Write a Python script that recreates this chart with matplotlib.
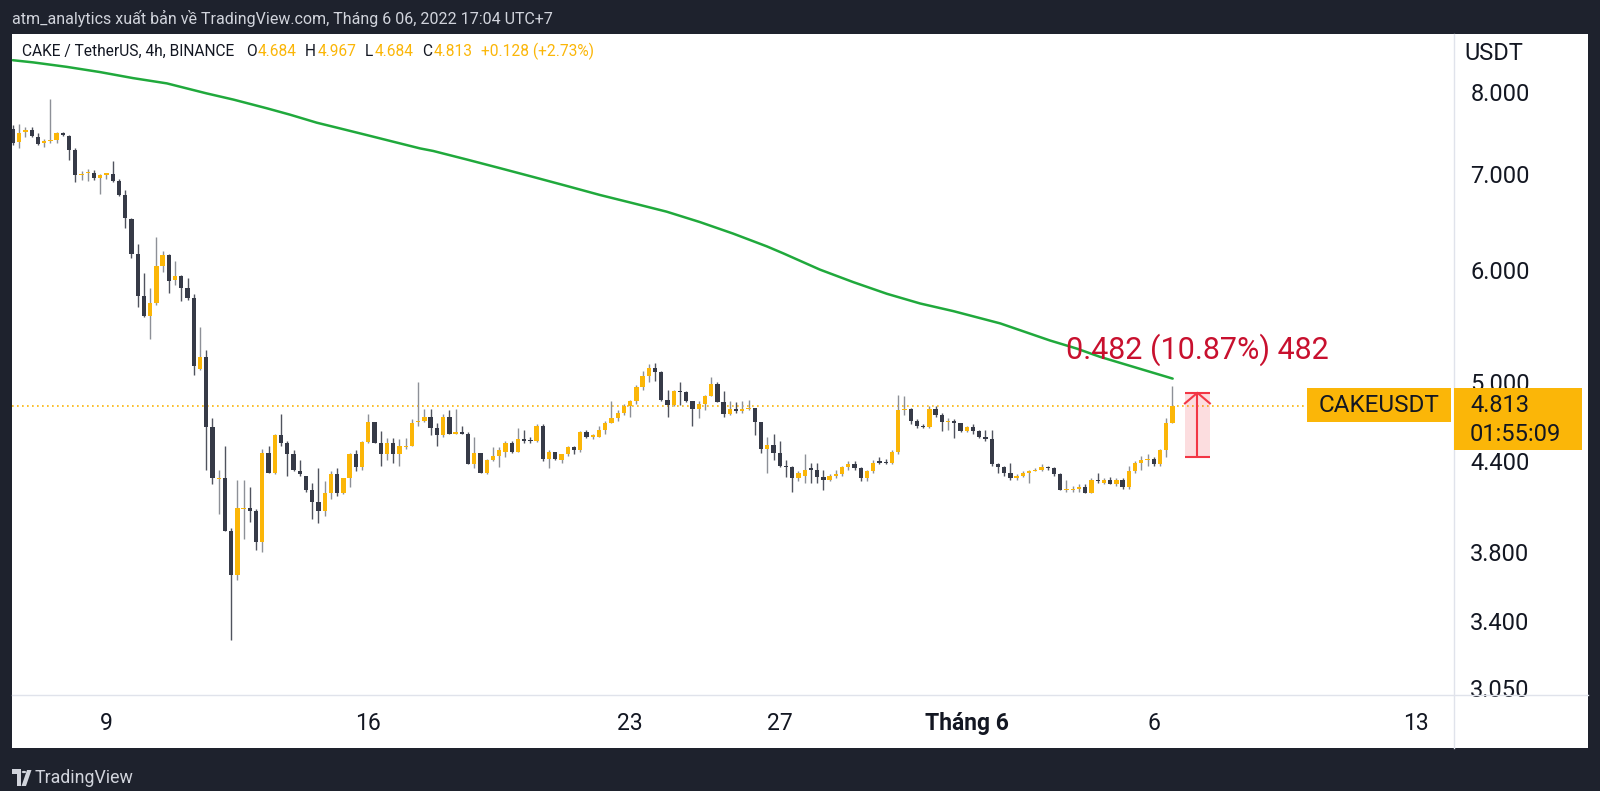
import matplotlib.pyplot as plt
from matplotlib.patches import Rectangle, Circle, Polygon
from matplotlib.lines import Line2D
from matplotlib.ticker import NullLocator, NullFormatter
import numpy as np

plt.rcParams['font.family'] = ['Roboto', 'DejaVu Sans']

# 4h candles, first one May 6 15:00 (UTC+7); x axis is "day of May" (June 1 = 32)
first_bar = 6 + 15 / 24

opens = [7.53, 7.38, 7.50, 7.52, 7.44, 7.36, 7.39, 7.40, 7.48, 7.45,
         7.28, 6.99, 7.01, 7.02, 6.96, 6.99, 7.00, 6.93, 6.77, 6.51,
         6.15, 5.75, 5.57, 5.68, 6.04, 6.14, 5.90, 5.94, 5.82, 5.73,
         5.11, 5.21, 4.65, 4.275, 4.28, 3.93, 3.66, 4.07, 4.08, 4.06,
         3.86, 4.46, 4.32, 4.59, 4.53, 4.45, 4.33, 4.30, 4.20, 4.12,
         4.06, 4.18, 4.31, 4.18, 4.28, 4.45, 4.36, 4.54, 4.69, 4.53,
         4.45, 4.53, 4.45, 4.50, 4.51, 4.69, 4.70, 4.73, 4.64, 4.59,
         4.73, 4.60, 4.61, 4.60, 4.38, 4.46, 4.32, 4.41, 4.44, 4.47,
         4.53, 4.47, 4.56, 4.55, 4.55, 4.66, 4.42, 4.47, 4.41, 4.45,
         4.50, 4.48, 4.61, 4.58, 4.58, 4.63, 4.68, 4.72, 4.76, 4.81,
         4.85, 4.96, 5.05, 5.12, 5.08, 4.86, 4.82, 4.93, 4.92, 4.85,
         4.79, 4.83, 4.89, 4.99, 4.84, 4.75, 4.79, 4.77, 4.79, 4.80,
         4.69, 4.49, 4.52, 4.46, 4.37, 4.36, 4.28, 4.30, 4.35, 4.34,
         4.29, 4.27, 4.30, 4.31, 4.36, 4.38, 4.35, 4.28, 4.33, 4.40,
         4.39, 4.39, 4.47, 4.78, 4.79, 4.70, 4.66, 4.65, 4.79, 4.74,
         4.69, 4.70, 4.68, 4.62, 4.65, 4.62, 4.58, 4.56, 4.38, 4.36,
         4.32, 4.28, 4.30, 4.32, 4.33, 4.34, 4.36, 4.35, 4.31, 4.20,
         4.20, 4.21, 4.22, 4.18, 4.27, 4.25, 4.27, 4.24, 4.27, 4.22,
         4.33, 4.39, 4.41, 4.42, 4.38, 4.48, 4.684]
highs = [7.58, 7.59, 7.56, 7.56, 7.49, 7.41, 7.91, 7.50, 7.50, 7.46,
         7.30, 7.04, 7.06, 7.05, 7.00, 7.02, 7.15, 6.95, 6.82, 6.52,
         6.25, 5.97, 5.82, 6.33, 6.18, 6.15, 6.08, 5.95, 5.92, 5.77,
         5.47, 5.27, 4.72, 4.34, 4.51, 3.95, 4.27, 4.27, 4.22, 4.07,
         4.49, 4.51, 4.60, 4.75, 4.55, 4.48, 4.41, 4.30, 4.25, 4.35,
         4.26, 4.33, 4.35, 4.28, 4.46, 4.48, 4.55, 4.75, 4.69, 4.62,
         4.57, 4.57, 4.56, 4.57, 4.71, 5.00, 4.79, 4.79, 4.68, 4.75,
         4.78, 4.79, 4.66, 4.61, 4.58, 4.46, 4.42, 4.50, 4.50, 4.55,
         4.55, 4.64, 4.63, 4.58, 4.67, 4.67, 4.48, 4.47, 4.45, 4.51,
         4.51, 4.62, 4.63, 4.60, 4.66, 4.70, 4.85, 4.78, 4.83, 4.86,
         4.98, 5.09, 5.15, 5.16, 5.09, 4.94, 4.94, 5.00, 4.93, 4.85,
         4.85, 4.90, 5.04, 5.00, 4.93, 4.85, 4.84, 4.85, 4.86, 4.80,
         4.69, 4.58, 4.60, 4.55, 4.41, 4.37, 4.33, 4.45, 4.39, 4.39,
         4.34, 4.31, 4.34, 4.37, 4.40, 4.40, 4.36, 4.34, 4.41, 4.43,
         4.42, 4.48, 4.90, 4.89, 4.80, 4.71, 4.67, 4.81, 4.81, 4.76,
         4.72, 4.71, 4.68, 4.66, 4.67, 4.63, 4.63, 4.63, 4.39, 4.37,
         4.39, 4.31, 4.33, 4.34, 4.35, 4.38, 4.37, 4.36, 4.32, 4.27,
         4.23, 4.24, 4.24, 4.28, 4.32, 4.28, 4.29, 4.28, 4.28, 4.37,
         4.40, 4.44, 4.45, 4.43, 4.49, 4.72, 4.967]
lows = [7.34, 7.31, 7.44, 7.44, 7.34, 7.32, 7.37, 7.36, 7.45, 7.16,
        6.91, 6.94, 6.92, 6.94, 6.78, 6.95, 6.91, 6.76, 6.42, 6.11,
        5.65, 5.56, 5.36, 5.67, 5.98, 5.78, 5.85, 5.70, 5.71, 5.06,
        5.10, 4.34, 4.24, 4.04, 3.93, 3.295, 3.63, 3.88, 3.99, 3.81,
        3.80, 4.32, 4.31, 4.51, 4.30, 4.33, 4.30, 4.19, 4.01, 3.98,
        4.03, 4.14, 4.16, 4.17, 4.22, 4.33, 4.34, 4.53, 4.53, 4.37,
        4.41, 4.39, 4.37, 4.49, 4.51, 4.66, 4.69, 4.59, 4.51, 4.58,
        4.60, 4.60, 4.60, 4.38, 4.35, 4.32, 4.31, 4.40, 4.36, 4.43,
        4.46, 4.47, 4.53, 4.53, 4.54, 4.40, 4.35, 4.41, 4.39, 4.44,
        4.45, 4.47, 4.57, 4.56, 4.58, 4.60, 4.68, 4.70, 4.74, 4.73,
        4.83, 4.94, 5.00, 5.01, 4.85, 4.73, 4.81, 4.82, 4.84, 4.66,
        4.72, 4.78, 4.89, 4.84, 4.73, 4.74, 4.76, 4.76, 4.78, 4.59,
        4.46, 4.32, 4.41, 4.36, 4.29, 4.19, 4.26, 4.25, 4.25, 4.25,
        4.20, 4.26, 4.28, 4.30, 4.34, 4.34, 4.26, 4.26, 4.32, 4.38,
        4.38, 4.38, 4.45, 4.74, 4.67, 4.64, 4.64, 4.64, 4.73, 4.62,
        4.63, 4.57, 4.61, 4.61, 4.60, 4.57, 4.55, 4.37, 4.32, 4.30,
        4.27, 4.27, 4.29, 4.25, 4.33, 4.33, 4.34, 4.30, 4.20, 4.19,
        4.19, 4.19, 4.18, 4.18, 4.25, 4.24, 4.24, 4.23, 4.21, 4.21,
        4.32, 4.34, 4.37, 4.37, 4.37, 4.43, 4.684]
closes = [7.37, 7.49, 7.52, 7.45, 7.35, 7.39, 7.40, 7.48, 7.46, 7.28,
          6.99, 7.00, 7.02, 6.96, 6.99, 7.01, 6.93, 6.77, 6.52, 6.15,
          5.75, 5.57, 5.68, 6.04, 6.14, 5.89, 5.94, 5.82, 5.73, 5.13,
          5.21, 4.65, 4.28, 4.28, 3.93, 3.66, 4.08, 4.08, 4.06, 3.86,
          4.46, 4.32, 4.59, 4.53, 4.45, 4.34, 4.31, 4.20, 4.12, 4.06,
          4.18, 4.31, 4.18, 4.28, 4.45, 4.36, 4.54, 4.69, 4.53, 4.45,
          4.53, 4.45, 4.51, 4.51, 4.68, 4.70, 4.73, 4.64, 4.59, 4.73,
          4.60, 4.61, 4.60, 4.38, 4.46, 4.32, 4.41, 4.44, 4.48, 4.53,
          4.47, 4.56, 4.55, 4.545, 4.66, 4.42, 4.47, 4.42, 4.45, 4.50,
          4.48, 4.61, 4.58, 4.59, 4.63, 4.68, 4.72, 4.76, 4.81, 4.85,
          4.96, 5.05, 5.12, 5.08, 4.86, 4.82, 4.93, 4.92, 4.85, 4.79,
          4.83, 4.89, 4.99, 4.84, 4.75, 4.79, 4.77, 4.79, 4.80, 4.69,
          4.49, 4.52, 4.46, 4.37, 4.36, 4.28, 4.32, 4.34, 4.34, 4.29,
          4.27, 4.30, 4.31, 4.36, 4.38, 4.35, 4.28, 4.33, 4.39, 4.39,
          4.385, 4.47, 4.78, 4.79, 4.70, 4.66, 4.65, 4.79, 4.74, 4.69,
          4.70, 4.68, 4.62, 4.65, 4.62, 4.58, 4.56, 4.38, 4.36, 4.32,
          4.28, 4.30, 4.32, 4.33, 4.34, 4.36, 4.35, 4.31, 4.20, 4.205,
          4.21, 4.22, 4.18, 4.27, 4.26, 4.27, 4.24, 4.27, 4.22, 4.33,
          4.39, 4.41, 4.42, 4.38, 4.48, 4.684, 4.813]

# green moving average
ma_days = [6.62, 7.17, 8.06, 8.95, 9.83, 10.74, 11.80, 12.52, 13.41, 14.03,
           14.75, 15.37, 16.08, 16.79, 17.51, 17.86, 18.76, 19.65, 20.54, 21.43,
           22.32, 23.21, 24.10, 24.99, 25.88, 26.78, 27.22, 28.20, 29.09, 29.99,
           30.88, 31.77, 33.02, 34.35, 35.07, 35.69, 37.63]
ma_vals = [8.42, 8.39, 8.33, 8.26, 8.18, 8.11, 7.98, 7.90, 7.79, 7.71,
           7.61, 7.54, 7.46, 7.38, 7.30, 7.27, 7.17, 7.07, 6.97, 6.87,
           6.77, 6.68, 6.59, 6.48, 6.36, 6.23, 6.16, 6.00, 5.88, 5.77,
           5.68, 5.61, 5.50, 5.35, 5.28, 5.21, 5.03]

price_ticks = [3.05, 3.4, 3.8, 4.4, 5.0, 6.0, 7.0, 8.0]
day_ticks = [9, 16, 23, 27, 32, 37, 44]
day_labels = ['9', '16', '23', '27', 'Tháng 6', '6', '13']

last_price = 4.813
meas_low, meas_high = 4.434, 4.916
meas_text = '0.482 (10.87%) 482'

UP = '#fbb608'
DOWN = '#363a47'
BG = '#1e222d'
TXT = '#131722'
W, H = 1600, 791


def fx(x):
    return x / W


def fy(y):
    return 1 - y / H


fig = plt.figure(figsize=(16, 7.91), dpi=100, facecolor=BG)
fig.add_artist(Rectangle((fx(12), fy(748)), fx(1588 - 12), (748 - 34) / H,
                         transform=fig.transFigure, facecolor='white', edgecolor='none', zorder=0))
ax = fig.add_axes([fx(12.2), fy(695), fx(1454.3 - 12.2), (695 - 33.7) / H])
ax.set_facecolor('none')
for s in ax.spines.values():
    s.set_visible(False)

o = np.array(opens)
c = np.array(closes)
hi = np.array(highs)
lo = np.array(lows)
t = first_bar + np.arange(len(o)) / 6
up = c >= o
bot = np.minimum(o, c)
top = np.maximum(np.maximum(o, c), bot * 1.002)

ax.vlines(t, lo, hi, colors=np.where(up, '#8d9097', '#50535e'), linewidth=1.0, zorder=2)
ax.bar(t, top - bot, bottom=bot, width=0.115, color=np.where(up, UP, DOWN), linewidth=0, zorder=3)

ax.plot(ma_days, ma_vals, color='#20a93c', lw=1.8, zorder=4,
        solid_capstyle='round', solid_joinstyle='round')

ax.axhline(last_price, xmin=0, xmax=(1307 - 12.2) / (1454.3 - 12.2), color=UP,
           linestyle=(0, (1, 2)), lw=1.2, zorder=1)

# price range measurement
m0 = t[-1] + 2 / 6
m1 = t[-1] + 6 / 6
mid = (m0 + m1) / 2
ax.add_patch(Rectangle((m0, meas_low), m1 - m0, meas_high - meas_low,
                       facecolor='#f23645', alpha=0.17, edgecolor='none', zorder=5))
ax.hlines([meas_low, meas_high], m0, m1, color='#f23645', lw=1.5, zorder=6)
ax.vlines(mid, meas_low, meas_high, color='#f23645', lw=1.5, zorder=6)
ax.plot([m0, mid, m1], [meas_high * 0.983, meas_high, meas_high * 0.983],
        color='#f23645', lw=1.5, zorder=6)
ax.annotate(meas_text, xy=(mid, meas_high), xytext=(0, 31), textcoords='offset points',
            ha='center', va='center', color='#c8102e', fontsize=22, zorder=7)

ax.set_yscale('log')
ax.set_ylim(3.0146, 8.789)
ax.set_xlim(6.604, 45.16)
ax.yaxis.tick_right()
ax.set_yticks(price_ticks)
ax.set_yticklabels([f'{v:.3f}' for v in price_ticks])
ax.yaxis.set_minor_locator(NullLocator())
ax.yaxis.set_minor_formatter(NullFormatter())
ax.tick_params(axis='y', length=0, pad=11.5, labelsize=17, labelcolor=TXT)
for lab in ax.get_yticklabels():
    lab.set_horizontalalignment('left')
ax.set_xticks([d + 0.125 for d in day_ticks])
ax.set_xticklabels(day_labels)
ax.tick_params(axis='x', length=0, pad=12, labelsize=16.5, labelcolor=TXT)
ax.get_xticklabels()[4].set_fontweight('bold')

# axis separators
fig.add_artist(Line2D([fx(1454.3)] * 2, [fy(34), fy(748)], transform=fig.transFigure,
                      color='#e0e3eb', lw=1))
fig.add_artist(Line2D([fx(12), fx(1588)], [fy(695)] * 2, transform=fig.transFigure,
                      color='#e0e3eb', lw=1))

fig.text(fx(1464.3), fy(53), 'USDT', fontsize=17, color=TXT, va='center')

# last price labels
fig.add_artist(Rectangle((fx(1307), fy(422.4)), fx(1451 - 1307), (422.4 - 387.8) / H,
                         transform=fig.transFigure, facecolor=UP, edgecolor='none', zorder=5))
fig.add_artist(Rectangle((fx(1454.3), fy(450)), fx(1581.6 - 1454.3), (450 - 387.8) / H,
                         transform=fig.transFigure, facecolor=UP, edgecolor='none', zorder=5))
fig.text(fx(1379), fy(405), 'CAKEUSDT', fontsize=17.5, color=TXT, ha='center', va='center', zorder=6)
fig.text(fx(1470), fy(405.5), f'{last_price:.3f}', fontsize=17, color=TXT, va='center', zorder=6)
fig.text(fx(1470), fy(434.5), '01:55:09', fontsize=17, color=TXT, va='center', zorder=6)

# header and legend
fig.text(fx(12.2), fy(18.5), 'atm_analytics xuất bản về TradingView.com, Tháng 6 06, 2022 17:04 UTC+7',
         fontsize=11.5, color='#d1d4dc', va='center')

renderer = fig.canvas.get_renderer()
x = 22.4
parts = [('CAKE / TetherUS, 4h, BINANCE', TXT, 11), ('O', TXT, 1), ('4.684', UP, 9),
         ('H', TXT, 1), ('4.967', UP, 9), ('L', TXT, 1), ('4.684', UP, 9),
         ('C', TXT, 1), ('4.813', UP, 9), ('+0.128 (+2.73%)', UP, 0)]
for s, col, gap in parts:
    txt = fig.text(fx(x), fy(51), s, fontsize=11.2, color=col, va='center')
    x += txt.get_window_extent(renderer=renderer).width + gap

# TradingView footer logo
fig.add_artist(Rectangle((fx(12), fy(774)), fx(9), 5 / H, transform=fig.transFigure,
                         facecolor='#d1d4dc', edgecolor='none'))
fig.add_artist(Rectangle((fx(17), fy(786)), fx(4), 16 / H, transform=fig.transFigure,
                         facecolor='#d1d4dc', edgecolor='none'))
fig.add_artist(Circle((fx(24), fy(772)), 2.3 / W, transform=fig.transFigure,
                      facecolor='#d1d4dc', edgecolor='none'))
fig.add_artist(Polygon([(fx(27), fy(770)), (fx(31.5), fy(770)), (fx(26), fy(786)), (fx(21.5), fy(786))],
                       transform=fig.transFigure, facecolor='#d1d4dc', edgecolor='none'))
fig.text(fx(35), fy(778), 'TradingView', fontsize=12.8, color='#d1d4dc', va='center')

fig.savefig('out.png', dpi=100, facecolor=BG)
